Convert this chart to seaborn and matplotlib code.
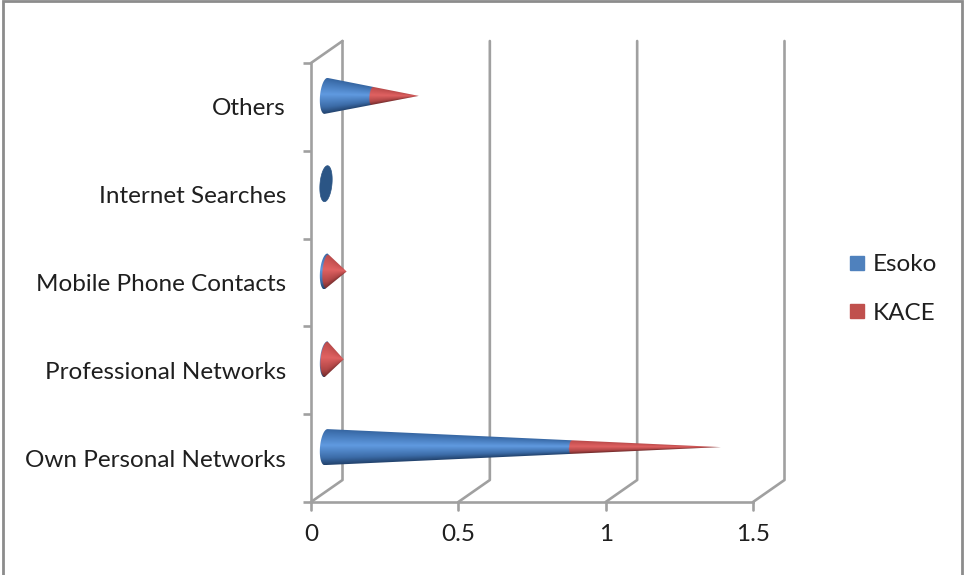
"""
Конусная диаграмма с накоплением: Esoko и KACE по источникам
"""

import numpy as np
import pandas as pd
import matplotlib
matplotlib.use('Agg')
import matplotlib.pyplot as plt
import seaborn as sns
from matplotlib.lines import Line2D
from matplotlib.patches import Polygon, Rectangle

categories = ['Own Personal Networks', 'Professional Networks', 'Mobile Phone Contacts',
              'Internet Searches', 'Others']
esoko = [0.83, 0.0, 0.005, 0.0, 0.155]
kace = [0.51, 0.06, 0.065, 0.0, 0.16]
x_ticks = [0, 0.5, 1, 1.5]
x_tick_labels = ['0', '0.5', '1', '1.5']

W, H = 964, 575
AX_LEFT, AX_RIGHT, AX_TOP, AX_BOTTOM = 311, 753, 63, 502
PX_X = (AX_RIGHT - AX_LEFT) / 1.5
PX_Y = (AX_BOTTOM - AX_TOP) / 5
DEPTH_X = 31.5 / PX_X
DEPTH_Y = 22 / PX_Y
BASE_W = 6 / PX_X
SHEAR = 1.5 / PX_X

GRID = '#a0a0a0'
TEXT = '#1f1f1f'
STOPS = [-1, -0.6, 0.1, 0.7, 1]
BLUE = np.array([[0x22, 0x42, 0x6c], [0x3c, 0x6c, 0xa8], [0x60, 0x9a, 0xe0],
                 [0x44, 0x78, 0xb8], [0x36, 0x66, 0xa2]]) / 255
RED = np.array([[0x6e, 0x2a, 0x2a], [0xb0, 0x46, 0x46], [0xe0, 0x62, 0x62],
                [0xc8, 0x52, 0x52], [0xb8, 0x4a, 0x4a]]) / 255


def shade(u, stops):
    """Цвет поперёк конуса"""
    return np.dstack([np.interp(u, STOPS, stops[:, i]) for i in range(3)])


def base_outline(x0, yc, r):
    th = np.linspace(np.pi / 2, 3 * np.pi / 2, 40)
    return x0 + BASE_W * np.cos(th) + SHEAR * np.sin(th), yc + r * np.sin(th)


def draw_cone(ax, bar_e, bar_t):
    """Рисует конус по геометрии столбцов seaborn"""
    r = bar_e.get_height() / 2
    yc = bar_e.get_y() + r + DEPTH_Y / 2
    x0 = 30 / PX_X / 2
    split = bar_e.get_width()
    total = bar_t.get_width()
    if total == 0:
        th = np.linspace(0, 2 * np.pi, 60)
        ax.add_patch(Polygon(np.c_[x0 + BASE_W * np.cos(th) + SHEAR * np.sin(th), yc + r * np.sin(th)],
                             facecolor='#2b5585', edgecolor='#2b5585', lw=0.5, zorder=5, clip_on=False))
        return
    extent = [x0 - BASE_W - SHEAR, x0 + total, yc - r, yc + r]
    X, Y = np.meshgrid(np.linspace(extent[0], extent[1], 900), np.linspace(yc - r, yc + r, 140))
    t = np.clip((X - x0) / total, 0, 1)
    rad = np.maximum(r * (1 - t), 1e-6)
    u = np.clip((Y - yc) / rad, -1, 1)
    ratio = 1 - split / total
    edge = x0 + split - BASE_W * ratio * np.sqrt(1 - u ** 2) + SHEAR * u * ratio
    rgb = np.where((X < edge)[..., None], shade(u, BLUE), shade(u, RED))
    bx, by = base_outline(x0, yc, r)
    clip = Polygon(np.c_[np.r_[bx, x0 + total], np.r_[by, yc]], transform=ax.transData)
    im = ax.imshow(rgb, extent=extent, origin='lower', aspect='auto', interpolation='bilinear',
                   zorder=5)
    im.set_clip_path(clip)


sns.set_theme(style='ticks')
plt.rcParams['font.family'] = ['Lato', 'DejaVu Sans']

fig = plt.figure(figsize=(W / 100, H / 100), dpi=100)
ax = fig.add_axes([AX_LEFT / W, 1 - AX_BOTTOM / H, (AX_RIGHT - AX_LEFT) / W, (AX_BOTTOM - AX_TOP) / H])

# столбцы нужны только как основа для конусов
df = pd.DataFrame({'source': categories, 'Esoko': esoko, 'KACE': kace})
df['total'] = df['Esoko'] + df['KACE']
sns.barplot(data=df, y='source', x='Esoko', order=categories, width=0.41, ax=ax)
sns.barplot(data=df, y='source', x='total', order=categories, width=0.41, ax=ax)
bars = list(ax.patches)
n = len(categories)
for bar in bars:
    bar.set_visible(False)
for bar_e, bar_t in zip(bars[:n], bars[n:]):
    draw_cone(ax, bar_e, bar_t)

ax.set_xlim(0, 1.5)
ax.set_ylim(-0.5, 4.5)
ax.set_xlabel('')
ax.set_ylabel('')

# стенки и засечки оси x
for x in x_ticks:
    ax.plot([x, x + DEPTH_X, x + DEPTH_X], [-0.5, -0.5 + DEPTH_Y, 4.5 + DEPTH_Y],
            color=GRID, lw=1.9, clip_on=False, zorder=1)
    ax.plot([x, x], [-0.5 - 8 / PX_Y, -0.5], color=GRID, lw=1.9, clip_on=False, zorder=1)
ax.plot([0, DEPTH_X], [4.5, 4.5 + DEPTH_Y], color=GRID, lw=1.9, clip_on=False, zorder=1)
ax.set_xlim(0, 1.5)
ax.set_ylim(-0.5, 4.5)

sns.despine(ax=ax, top=True, right=True)
for side in ['left', 'bottom']:
    ax.spines[side].set_color(GRID)
    ax.spines[side].set_linewidth(1.9)

ax.set_xticks(x_ticks)
ax.set_xticklabels(x_tick_labels)
ax.set_yticks(range(n))
ax.set_yticklabels(categories)
ax.set_yticks(np.arange(-0.5, n), minor=True)
ax.tick_params(axis='x', which='major', bottom=False, length=0, pad=16, labelsize=17.5, labelcolor=TEXT)
ax.tick_params(axis='y', which='major', left=False, length=0, pad=18, labelsize=17.5, labelcolor=TEXT)
ax.tick_params(axis='y', which='minor', left=True, length=6, width=1.9, color=GRID)

handles = [Line2D([], [], linestyle='none', marker='s', markersize=9.5, color='#4f81bd', label='Esoko'),
           Line2D([], [], linestyle='none', marker='s', markersize=9.5, color='#c0504d', label='KACE')]
fig.legend(handles=handles, loc='center left', bbox_to_anchor=(846 / W, 1 - 289 / H), frameon=False,
           fontsize=17.5, labelspacing=1.12, handlelength=0.9, handletextpad=0.2, labelcolor=TEXT,
           borderpad=0, borderaxespad=0)

# рамка картинки
fig.add_artist(Rectangle((3 / W, -0.1), (962 - 3) / W, 1.1 - 1 / H, transform=fig.transFigure,
                         facecolor='none', edgecolor='#8c8c8c', lw=2))

fig.savefig('out.png', dpi=100)
plt.close(fig)
